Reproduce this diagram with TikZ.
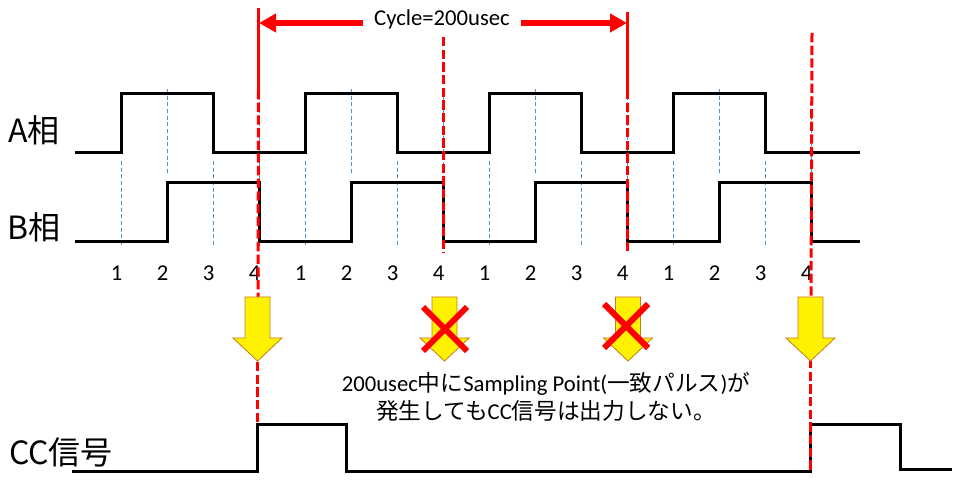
\documentclass[tikz,border=0pt]{standalone}
\usepackage{fontspec}
\setmainfont{Carlito}
\newfontfamily\jp{Noto Sans CJK JP}
\usetikzlibrary{arrows.meta}
\definecolor{gridblue}{RGB}{80,145,210}
\definecolor{arrowedge}{RGB}{196,122,32}

\begin{document}
\begin{tikzpicture}[x=0.75pt,y=-0.75pt,
	sig/.style={line width=2.25pt},
	gridline/.style={draw=gridblue,line width=0.75pt,dash pattern=on 3pt off 2pt},
	redsolid/.style={draw=red,line width=2.25pt},
	reddash/.style={draw=red,line width=2.25pt,dash pattern=on 7pt off 2.5pt},
	cyclearrow/.style={draw=red,line width=4.5pt,-{Triangle[length=12.75pt,width=13.5pt]}},
	yarrow/.style={fill=yellow,draw=arrowedge,line width=0.6pt},
	xmark/.style={draw=red,line width=4.5pt},
	phase/.style={font=\jp\fontsize{24}{28}\selectfont},
	num/.style={font=\fontsize{17}{20}\selectfont,inner sep=0pt}]
	\useasboundingbox (0,0) rectangle (967,491);

	% labels
	\node[phase] (la) at (34,130) {A相};
	\node[phase] (lb) at (34,227) {B相};
	\node[phase] (lcc) at (61,452) {CC信号};

	% grid lines
	\foreach \k in {0,...,3} {
		\draw[gridline] ({121+184*\k},161) -- ({121+184*\k},247);
		\draw[gridline] ({167+184*\k},89) -- ({167+184*\k},175);
		\draw[gridline] ({213+184*\k},161) -- ({213+184*\k},247);
		\draw[gridline] ({259+184*\k},89) -- ({259+184*\k},247);
		\foreach \n in {1,...,4}
			\node[num] (n\k\n) at ({121+184*\k+46*(\n-1)-4.5},273) {\n};
	}

	% A and B phase
	\draw[sig] (75,153) foreach \k in {0,...,3} {
		-- ({121+184*\k},153) -- ({121+184*\k},94) -- ({213+184*\k},94) -- ({213+184*\k},153)
	} -- (860,153);
	\draw[sig] (75,242) foreach \k in {0,...,3} {
		-- ({167+184*\k},242) -- ({167+184*\k},183) -- ({259+184*\k},183) -- ({259+184*\k},242)
	} -- (860,242);

	% CC signal
	\draw[sig] (72,471) -- (257,471) -- (257,424) -- (346,424) -- (346,471)
		-- (810,471) -- (810,424) -- (900,424) -- (900,469) -- (952,469);

	% cycle
	\node[font=\fontsize{17}{20}\selectfont,inner sep=8.5pt] (cyc) at (442,19) {Cycle=200usec};
	\coordinate (c0) at (259,23);
	\coordinate (c1) at (627,23);
	\draw[cyclearrow] (cyc.west |- c0) -- (c0);
	\draw[cyclearrow] (cyc.east |- c1) -- (c1);

	% red lines
	\draw[redsolid] (258.5,8) -- (258.5,90);
	\draw[redsolid] (627,12) -- (627,90);
	\draw[reddash] (258.5,90) -- (258,297);
	\draw[reddash] (443,37) -- (443,253);
	\draw[reddash] (627,90) -- (627,253);
	\draw[reddash] (812,33) -- (811,297);
	\draw[reddash] (257,362) -- (257,424);
	\draw[reddash] (810,359) -- (810,471);

	% sampling arrows
	\foreach \x in {257.5,444.5,628,810.5}
		\filldraw[yarrow] ({\x-12.5},297) -- ({\x+12.5},297) -- ({\x+12.5},338) -- ({\x+24.5},338)
			-- (\x,361) -- ({\x-24.5},338) -- ({\x-12.5},338) -- cycle;
	\foreach \x/\y in {445/329,626/326}
		\draw[xmark] ({\x-22},{\y-22}) -- ({\x+22},{\y+22}) ({\x-22},{\y+22}) -- ({\x+22},{\y-22});

	\node[align=center,font=\fontsize{17}{21}\selectfont] (msg) at (546,397)
		{200usec{\jp 中に}Sampling Point({\jp 一致パルス}){\jp が}\\{\jp 発生しても}CC{\jp 信号は出力しない。}};
\end{tikzpicture}
\end{document}
